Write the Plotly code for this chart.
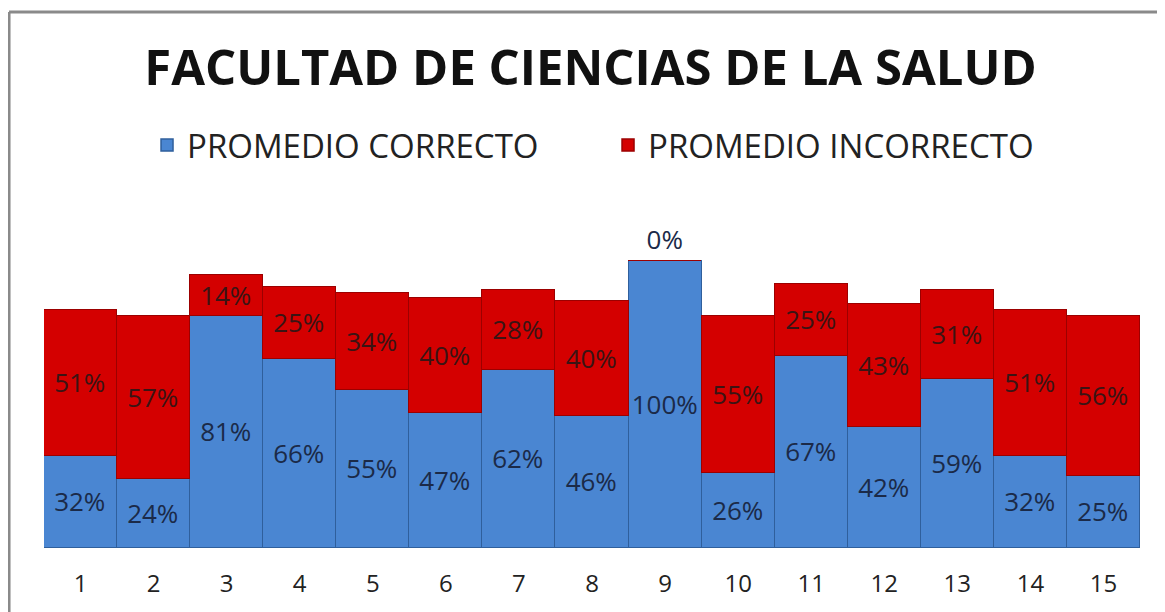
import plotly.graph_objects as go

# Share of correct / incorrect answers per question
preguntas = ['1', '2', '3', '4', '5', '6', '7', '8', '9', '10', '11', '12', '13', '14', '15']
correcto = [32, 24, 81, 66, 55, 47, 62, 46, 100, 26, 67, 42, 59, 32, 25]
incorrecto = [51, 57, 14, 25, 34, 40, 28, 40, 0, 55, 25, 43, 31, 51, 56]

fig = go.Figure()

fig.add_trace(go.Bar(
    x=preguntas,
    y=correcto,
    name='PROMEDIO CORRECTO',
    text=[f'{v}%' for v in correcto],
    textposition='inside',
    insidetextanchor='middle',
    constraintext='none',
    textfont=dict(size=26, color='#1b2a48', family='Open Sans'),
    marker=dict(color='#4a86d2', line=dict(width=1.5, color='#2f5f9c')),
))

fig.add_trace(go.Bar(
    x=preguntas,
    y=incorrecto,
    name='PROMEDIO INCORRECTO',
    text=[f'{v}%' for v in incorrecto],
    textposition=['outside' if v == 0 else 'inside' for v in incorrecto],
    insidetextanchor='middle',
    constraintext='none',
    cliponaxis=False,
    textfont=dict(size=26, color='#3a1414', family='Open Sans'),
    outsidetextfont=dict(size=26, color='#1b2a48', family='Open Sans'),
    marker=dict(color='#d40000', line=dict(width=1.5, color='#9c0000')),
))

# page is drawn with an 8px body margin, so positions are shifted by 8px
fig.update_layout(
    width=1165,
    height=612,
    barmode='stack',
    bargap=0,
    plot_bgcolor='white',
    paper_bgcolor='white',
    margin=dict(l=36, r=33, t=222, b=72),
    title=dict(
        text='<b>FACULTAD DE CIENCIAS DE LA SALUD</b>',
        x=0.5, xanchor='center',
        y=0.902, yanchor='middle',
        font=dict(size=49, color='#111111', family='Open Sans'),
    ),
    legend=dict(
        orientation='h',
        x=0.094, xanchor='left',
        y=1.267, yanchor='middle',
        font=dict(size=33, color='#222222', family='Open Sans'),
        entrywidth=416,
        entrywidthmode='pixels',
        traceorder='normal',
    ),
    xaxis=dict(
        showgrid=False,
        showline=False,
        ticks='',
        ticklabelstandoff=19,
        tickfont=dict(size=24, color='#222222', family='Open Sans'),
    ),
    yaxis=dict(
        range=[0, 110.8],
        showgrid=False,
        showticklabels=False,
        zeroline=False,
        showline=False,
    ),
    shapes=[
        dict(type='line', xref='paper', yref='paper',
             x0=-0.0319, x1=1.05, y0=1.6855, y1=1.6855,
             line=dict(color='#8a8a8a', width=3)),
        dict(type='line', xref='paper', yref='paper',
             x0=-0.0319, x1=-0.0319, y0=1.6855, y1=-0.3,
             line=dict(color='#8a8a8a', width=3)),
    ],
)

fig.write_html('out.html')
